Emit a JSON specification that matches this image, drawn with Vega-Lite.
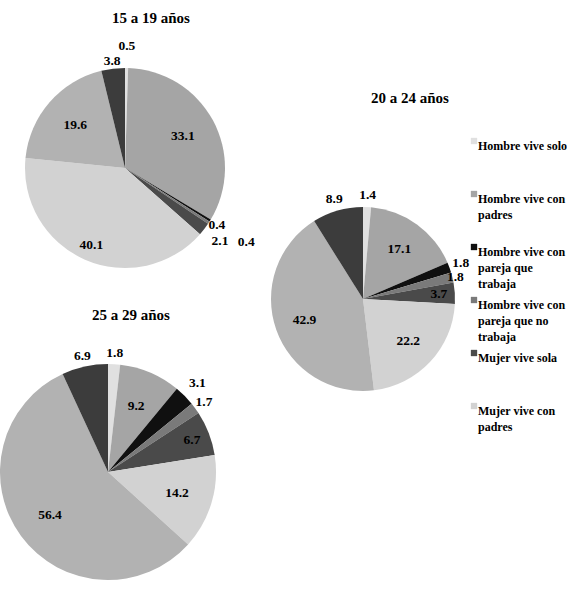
{
  "$schema": "https://vega.github.io/schema/vega-lite/v6.json",
  "padding": {"left": 0, "top": 11, "right": 0, "bottom": 0},
  "background": "white",
  "config": {
    "view": {"stroke": null},
    "font": "Liberation Serif",
    "title": {"font": "Liberation Serif", "fontSize": 15, "fontWeight": "bold", "color": "black", "anchor": "middle", "frame": "group"},
    "text": {"font": "Liberation Serif", "fontWeight": "bold", "fontSize": 13.5}
  },
  "datasets": {
    "pies": [
      {"edad": "15 a 19 años", "idx": 1, "categoria": "Hombre vive solo", "valor": 0.5},
      {"edad": "15 a 19 años", "idx": 2, "categoria": "Hombre vive con padres", "valor": 33.1},
      {"edad": "15 a 19 años", "idx": 3, "categoria": "Hombre vive con pareja que trabaja", "valor": 0.4},
      {"edad": "15 a 19 años", "idx": 4, "categoria": "Hombre vive con pareja que no trabaja", "valor": 0.4},
      {"edad": "15 a 19 años", "idx": 5, "categoria": "Mujer vive sola", "valor": 2.1},
      {"edad": "15 a 19 años", "idx": 6, "categoria": "Mujer vive con padres", "valor": 40.1},
      {"edad": "15 a 19 años", "idx": 7, "categoria": "Mujer vive con pareja que trabaja", "valor": 19.6},
      {"edad": "15 a 19 años", "idx": 8, "categoria": "Mujer vive con pareja que no trabaja", "valor": 3.8},
      {"edad": "20 a 24 años", "idx": 1, "categoria": "Hombre vive solo", "valor": 1.4},
      {"edad": "20 a 24 años", "idx": 2, "categoria": "Hombre vive con padres", "valor": 17.1},
      {"edad": "20 a 24 años", "idx": 3, "categoria": "Hombre vive con pareja que trabaja", "valor": 1.8},
      {"edad": "20 a 24 años", "idx": 4, "categoria": "Hombre vive con pareja que no trabaja", "valor": 1.8},
      {"edad": "20 a 24 años", "idx": 5, "categoria": "Mujer vive sola", "valor": 3.7},
      {"edad": "20 a 24 años", "idx": 6, "categoria": "Mujer vive con padres", "valor": 22.2},
      {"edad": "20 a 24 años", "idx": 7, "categoria": "Mujer vive con pareja que trabaja", "valor": 42.9},
      {"edad": "20 a 24 años", "idx": 8, "categoria": "Mujer vive con pareja que no trabaja", "valor": 8.9},
      {"edad": "25 a 29 años", "idx": 1, "categoria": "Hombre vive solo", "valor": 1.8},
      {"edad": "25 a 29 años", "idx": 2, "categoria": "Hombre vive con padres", "valor": 9.2},
      {"edad": "25 a 29 años", "idx": 3, "categoria": "Hombre vive con pareja que trabaja", "valor": 3.1},
      {"edad": "25 a 29 años", "idx": 4, "categoria": "Hombre vive con pareja que no trabaja", "valor": 1.7},
      {"edad": "25 a 29 años", "idx": 5, "categoria": "Mujer vive sola", "valor": 6.7},
      {"edad": "25 a 29 años", "idx": 6, "categoria": "Mujer vive con padres", "valor": 14.2},
      {"edad": "25 a 29 años", "idx": 7, "categoria": "Mujer vive con pareja que trabaja", "valor": 56.4},
      {"edad": "25 a 29 años", "idx": 8, "categoria": "Mujer vive con pareja que no trabaja", "valor": 6.9}
    ]
  },
  "resolve": {"scale": {"color": "shared", "theta": "independent"}, "legend": {"color": "shared"}},
  "spacing": -7,
  "hconcat": [
    {
      "spacing": 2,
      "resolve": {"scale": {"color": "shared", "theta": "independent"}, "legend": {"color": "shared"}},
      "vconcat": [
        {
          "title": {"text": "15 a 19 años", "dx": 26, "frame": "group"},
          "width": 240,
          "height": 276,
          "data": {"name": "pies"},
          "transform": [{"filter": "datum.edad == '15 a 19 años'"}],
          "encoding": {
            "theta": {"field": "valor", "type": "quantitative", "stack": true},
            "order": {"field": "idx", "type": "quantitative", "sort": "ascending"},
            "color": {
              "field": "categoria", "type": "nominal",
              "scale": {
                "domain": ["Hombre vive solo", "Hombre vive con padres", "Hombre vive con pareja que trabaja", "Hombre vive con pareja que no trabaja", "Mujer vive sola", "Mujer vive con padres", "Mujer vive con pareja que trabaja", "Mujer vive con pareja que no trabaja"],
                "range": ["#e0e0e0", "#a5a5a5", "#101010", "#7a7a7a", "#4a4a4a", "#d2d2d2", "#b2b2b2", "#3c3c3c"]
              },
              "legend": {
                "orient": "none", "legendX": 463, "legendY": 105,
                "title": null,
                "values": ["Hombre vive solo", "Hombre vive con padres", "Hombre vive con pareja que trabaja", "Hombre vive con pareja que no trabaja", "Mujer vive sola", "Mujer vive con padres"],
                "symbolType": "square", "symbolSize": 40, "symbolStrokeWidth": 0,
                "labelFont": "Liberation Serif", "labelFontWeight": "bold", "labelFontSize": 12, "labelColor": "black",
                "labelLimit": 300, "labelOffset": -2, "rowPadding": 4, "labelBaseline": "top", "gridAlign": "all",
                "encode": {"labels": {"update": {"lineHeight": {"value": 16}}}},
                "labelExpr": "datum.label == 'Hombre vive con padres' ? ['Hombre vive con', 'padres'] : datum.label == 'Hombre vive con pareja que trabaja' ? ['Hombre vive con', 'pareja que', 'trabaja'] : datum.label == 'Hombre vive con pareja que no trabaja' ? ['Hombre vive con', 'pareja que no', 'trabaja'] : datum.label == 'Mujer vive con padres' ? ['Mujer vive con', 'padres'] : datum.label"
              }
            }
          },
          "layer": [
            {"mark": {"type": "arc", "outerRadius": 100}},
            {
              "mark": {"type": "text", "radius": 66},
              "encoding": {
                "text": {"field": "valor", "type": "quantitative", "format": ".1f"},
                "detail": {"field": "categoria"},
                "color": {"value": "black"},
                "opacity": {"condition": {"test": "datum.idx == 2 || datum.idx == 7", "value": 1}, "value": 0}
              }
            },
            {
              "mark": {"type": "text", "radius": 84},
              "encoding": {
                "text": {"field": "valor", "type": "quantitative", "format": ".1f"},
                "detail": {"field": "categoria"},
                "color": {"value": "black"},
                "opacity": {"condition": {"test": "datum.idx == 6", "value": 1}, "value": 0}
              }
            },
            {
              "mark": {"type": "text", "radius": 108},
              "encoding": {
                "text": {"field": "valor", "type": "quantitative", "format": ".1f"},
                "detail": {"field": "categoria"},
                "color": {"value": "black"},
                "opacity": {"condition": {"test": "datum.idx == 3 || datum.idx == 8", "value": 1}, "value": 0}
              }
            },
            {
              "transform": [{"filter": "datum.idx <= 1"}],
              "mark": {"type": "text", "radius": 122},
              "encoding": {
                "text": {"field": "valor", "type": "quantitative", "format": ".1f"},
                "detail": {"field": "categoria"},
                "color": {"value": "black"}
              }
            },
            {
              "transform": [{"filter": "datum.idx <= 5"}],
              "mark": {"type": "text", "radius": 120},
              "encoding": {
                "text": {"field": "valor", "type": "quantitative", "format": ".1f"},
                "detail": {"field": "categoria"},
                "color": {"value": "black"},
                "opacity": {"condition": {"test": "datum.idx == 5", "value": 1}, "value": 0}
              }
            },
            {
              "transform": [{"filter": "datum.idx >= 2 && datum.idx <= 4"}],
              "mark": {"type": "text", "radius": 142},
              "encoding": {
                "text": {"field": "valor", "type": "quantitative", "format": ".1f"},
                "detail": {"field": "categoria"},
                "color": {"value": "black"},
                "opacity": {"condition": {"test": "datum.idx == 4", "value": 1}, "value": 0}
              }
            }
          ]
        },
        {
          "title": {"text": "25 a 29 años", "dx": 23, "dy": -12, "frame": "group"},
          "width": 206,
          "height": 250,
          "data": {"name": "pies"},
          "transform": [{"filter": "datum.edad == '25 a 29 años'"}],
          "encoding": {
            "theta": {"field": "valor", "type": "quantitative", "stack": true},
            "order": {"field": "idx", "type": "quantitative", "sort": "ascending"},
            "color": {"field": "categoria", "type": "nominal"}
          },
          "layer": [
            {"mark": {"type": "arc", "outerRadius": 108}},
            {
              "mark": {"type": "text", "radius": 72},
              "encoding": {
                "text": {"field": "valor", "type": "quantitative", "format": ".1f"},
                "detail": {"field": "categoria"},
                "color": {"value": "black"},
                "opacity": {"condition": {"test": "datum.idx == 2 || datum.idx == 6 || datum.idx == 7", "value": 1}, "value": 0}
              }
            },
            {
              "mark": {"type": "text", "radius": 90},
              "encoding": {
                "text": {"field": "valor", "type": "quantitative", "format": ".1f"},
                "detail": {"field": "categoria"},
                "color": {"value": "black"},
                "opacity": {"condition": {"test": "datum.idx == 5", "value": 1}, "value": 0}
              }
            },
            {
              "mark": {"type": "text", "radius": 119},
              "encoding": {
                "text": {"field": "valor", "type": "quantitative", "format": ".1f"},
                "detail": {"field": "categoria"},
                "color": {"value": "black"},
                "opacity": {"condition": {"test": "datum.idx == 1 || datum.idx == 4 || datum.idx == 8", "value": 1}, "value": 0}
              }
            },
            {
              "transform": [{"filter": "datum.idx <= 3"}],
              "mark": {"type": "text", "radius": 126},
              "encoding": {
                "text": {"field": "valor", "type": "quantitative", "format": ".1f"},
                "detail": {"field": "categoria"},
                "color": {"value": "black"},
                "opacity": {"condition": {"test": "datum.idx == 3", "value": 1}, "value": 0}
              }
            }
          ]
        }
      ]
    },
    {
      "title": {"text": "20 a 24 años", "dy": 80, "dx": 47, "frame": "group"},
      "width": 150,
      "height": 538,
      "data": {"name": "pies"},
      "transform": [{"filter": "datum.edad == '20 a 24 años'"}],
      "encoding": {
        "theta": {"field": "valor", "type": "quantitative", "stack": true},
        "order": {"field": "idx", "type": "quantitative", "sort": "ascending"},
        "color": {"field": "categoria", "type": "nominal"}
      },
      "layer": [
        {"mark": {"type": "arc", "outerRadius": 92}},
        {
          "mark": {"type": "text", "radius": 62},
          "encoding": {
            "text": {"field": "valor", "type": "quantitative", "format": ".1f"},
            "detail": {"field": "categoria"},
            "color": {"value": "black"},
            "opacity": {"condition": {"test": "datum.idx == 2 || datum.idx == 6 || datum.idx == 7", "value": 1}, "value": 0}
          }
        },
        {
          "mark": {"type": "text", "radius": 76},
          "encoding": {
            "text": {"field": "valor", "type": "quantitative", "format": ".1f"},
            "detail": {"field": "categoria"},
            "color": {"value": "black"},
            "opacity": {"condition": {"test": "datum.idx == 5", "value": 1}, "value": 0}
          }
        },
        {
          "mark": {"type": "text", "radius": 104},
          "encoding": {
            "text": {"field": "valor", "type": "quantitative", "format": ".1f"},
            "detail": {"field": "categoria"},
            "color": {"value": "black"},
            "opacity": {"condition": {"test": "datum.idx == 1 || datum.idx == 3 || datum.idx == 8", "value": 1}, "value": 0}
          }
        },
        {
          "transform": [{"filter": "datum.idx <= 4"}],
          "mark": {"type": "text", "radius": 95},
          "encoding": {
            "text": {"field": "valor", "type": "quantitative", "format": ".1f"},
            "detail": {"field": "categoria"},
            "color": {"value": "black"},
            "opacity": {"condition": {"test": "datum.idx == 4", "value": 1}, "value": 0}
          }
        }
      ]
    }
  ]
}
